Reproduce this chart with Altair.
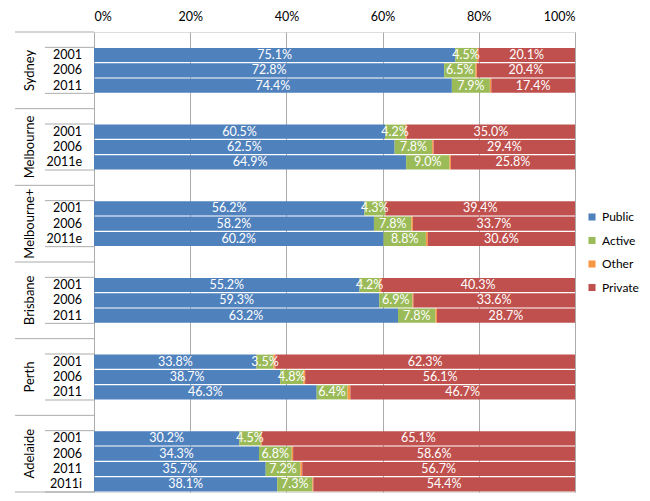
import altair as alt
import pandas as pd

cities = ["Sydney", "Melbourne", "Melbourne+", "Brisbane", "Perth", "Adelaide"]
years = [["2001", "2006", "2011"], ["2001", "2006", "2011e"], ["2001", "2006", "2011e"],
         ["2001", "2006", "2011"], ["2001", "2006", "2011"], ["2001", "2006", "2011", "2011i"]]
public = [[75.1, 72.8, 74.4], [60.5, 62.5, 64.9], [56.2, 58.2, 60.2],
          [55.2, 59.3, 63.2], [33.8, 38.7, 46.3], [30.2, 34.3, 35.7, 38.1]]
active = [[4.5, 6.5, 7.9], [4.2, 7.8, 9.0], [4.3, 7.8, 8.8],
          [4.2, 6.9, 7.8], [3.5, 4.8, 6.4], [4.5, 6.8, 7.2, 7.3]]
other = [[0.3, 0.3, 0.3], [0.3, 0.3, 0.3], [0.1, 0.3, 0.4],
         [0.3, 0.2, 0.3], [0.4, 0.4, 0.6], [0.2, 0.3, 0.4, 0.2]]
private = [[20.1, 20.4, 17.4], [35.0, 29.4, 25.8], [39.4, 33.7, 30.6],
           [40.3, 33.6, 28.7], [62.3, 56.1, 46.7], [65.1, 58.6, 56.7, 54.4]]
series = ["Public", "Active", "Other", "Private"]
colors = ["#4F81BD", "#9BBB59", "#F79646", "#C0504D"]
x_ticks = [0, 20, 40, 60, 80, 100]

GROUP = 5  # slots per city group (blank row + bars)
N_SLOTS = GROUP * len(cities)

rows, year_rows, city_rows, sep_rows = [], [], [], []
for g, city in enumerate(cities):
    start = g * GROUP
    city_rows.append({"city": city, "ym": start + GROUP / 2})
    sep_rows.append({"yb": start, "kind": "long"})
    n = len(years[g])
    sep_rows.append({"yb": start + 1, "kind": "short"})
    sep_rows.append({"yb": start + 1 + n, "kind": "short"})
    for i, yr in enumerate(years[g]):
        slot = start + 1 + i
        year_rows.append({"year": yr, "ym": slot + 0.5})
        vals = [public[g][i], active[g][i], other[g][i], private[g][i]]
        for k, (s, v) in enumerate(zip(series, vals)):
            rows.append({"slot": slot, "series": s, "value": v, "order": k,
                         "label": "" if s == "Other" else f"{v:.1f}%"})
sep_rows.append({"yb": N_SLOTS, "kind": "long"})

df = pd.DataFrame(rows)
ydf = pd.DataFrame(year_rows)
cdf = pd.DataFrame(city_rows)
sdf = pd.DataFrame(sep_rows)

FONT = "Lato"
xscale = alt.Scale(domain=[0, 100], nice=False, zero=False)
yscale = alt.Scale(domain=[0, N_SLOTS], reverse=True, nice=False, zero=False)

xaxis = alt.Axis(orient="top", values=x_ticks, labelExpr="datum.value + '%'",
                 ticks=False, domain=False, labelPadding=9, labelFont=FONT,
                 labelFontSize=12.5, labelColor="#000000", grid=True,
                 gridColor="#ababab", title=None)

base = alt.Chart(df).transform_stack(
    stack="value", groupby=["slot"], sort=[alt.SortField("order")], as_=["x0", "x1"]
).transform_calculate(
    ytop="datum.slot + 0.04", ybot="datum.slot + 0.96",
    xm="(datum.x0 + datum.x1) / 2", ym="datum.slot + 0.5"
)

bars = base.mark_bar().encode(
    x=alt.X("x0:Q", scale=xscale, axis=xaxis),
    x2="x1:Q",
    y=alt.Y("ytop:Q", scale=yscale, axis=None),
    y2="ybot:Q",
    color=alt.Color("series:N", scale=alt.Scale(domain=series, range=colors),
                    legend=alt.Legend(title=None, orient="none", legendX=492, legendY=179,
                                      symbolType="square", symbolSize=50,
                                      labelFont=FONT, labelFontSize=12,
                                      labelColor="#000000", rowPadding=11.5,
                                      labelOffset=4, padding=0)),
)

labels = base.transform_filter("datum.series != 'Other'").mark_text(
    color="#ffffff", font=FONT, fontSize=12.5
).encode(
    x=alt.X("xm:Q", scale=xscale),
    y=alt.Y("ym:Q", scale=yscale),
    text="label:N",
)

year_text = alt.Chart(ydf).mark_text(
    align="right", font=FONT, fontSize=12.5, color="#000000"
).encode(
    x=alt.value(-12),
    y=alt.Y("ym:Q", scale=yscale),
    text="year:N",
)

city_text = alt.Chart(cdf).mark_text(
    angle=270, font=FONT, fontSize=13, color="#000000", baseline="middle"
).encode(
    x=alt.value(-64),
    y=alt.Y("ym:Q", scale=yscale),
    text="city:N",
)

long_rules = alt.Chart(sdf).transform_filter("datum.kind == 'long'").mark_rule(
    color="#ababab", strokeWidth=1
).encode(x=alt.value(-79), x2=alt.value(0), y=alt.Y("yb:Q", scale=yscale))

short_rules = alt.Chart(sdf).transform_filter("datum.kind == 'short'").mark_rule(
    color="#ababab", strokeWidth=1
).encode(x=alt.value(-49), x2=alt.value(0), y=alt.Y("yb:Q", scale=yscale))

chart = alt.layer(bars, labels, year_text, city_text, long_rules, short_rules).properties(
    width=481, height=460,
    autosize=alt.AutoSizeParams(type="none"),
    padding={"left": 86, "top": 24, "right": 67, "bottom": 1},
).configure_view(stroke=None).configure(font=FONT)

chart.save("out.html", embed_options={"renderer": "svg", "actions": False})
